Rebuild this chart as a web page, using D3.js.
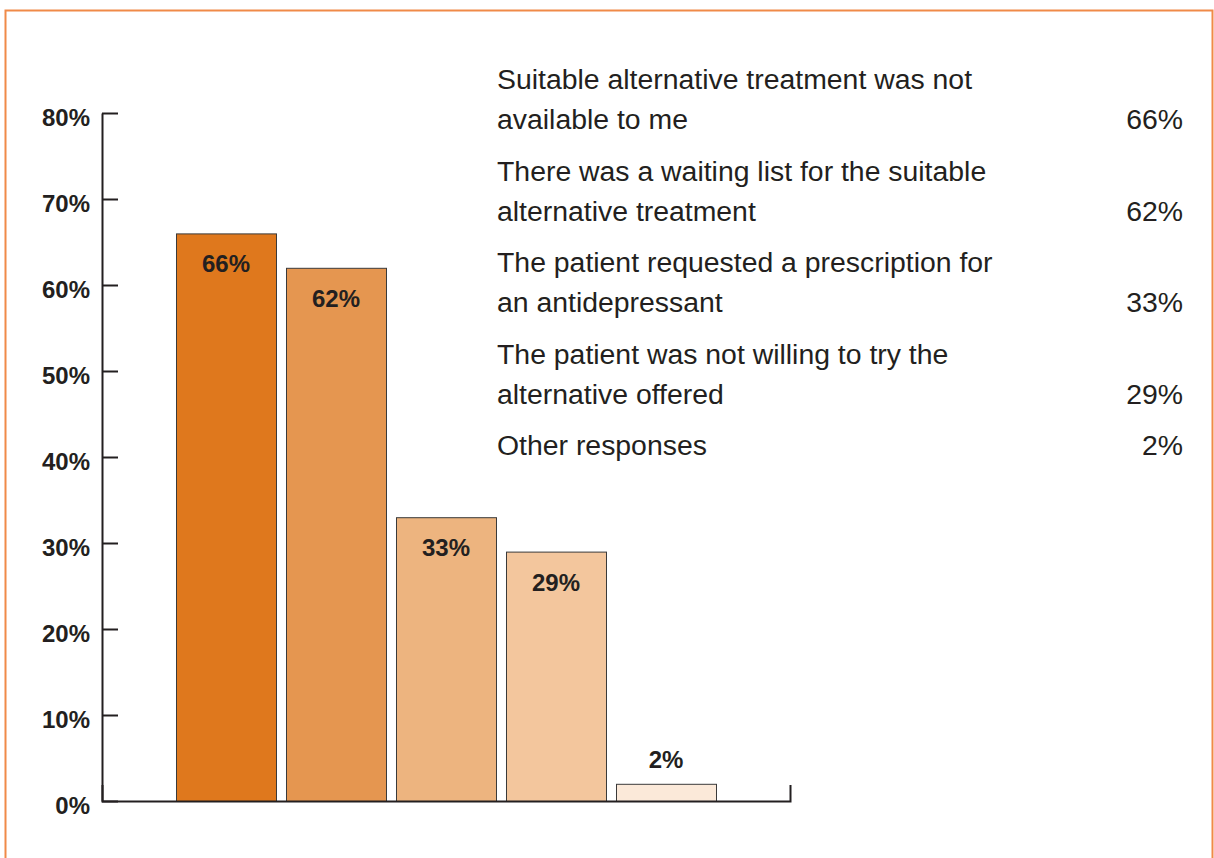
<!DOCTYPE html>
<html lang="en">
<head>
<meta charset="UTF-8">
<title>Reasons for prescribing</title>
<script src="https://d3js.org/d3.v7.min.js"></script>
<style>
    body { margin: 0; background: #fff; }
    svg { display: block; font-family: "Liberation Sans", Arial, Helvetica, sans-serif; }
    .axis path, .axis line { stroke: #231f20; stroke-width: 2px; fill: none; }
    .axis text { font-size: 24px; font-weight: bold; fill: #231f20; }
    .bar { stroke: #3a3a3a; stroke-width: 1px; }
    .bar-label { font-size: 24px; font-weight: bold; fill: #231f20; text-anchor: middle; }
    .legend text { font-size: 28.4px; fill: #231f20; }
</style>
</head>
<body>
<div id="chart"></div>
<script>
    // values
    var categories = ["Not available", "Waiting list", "Patient requested", "Not willing", "Other"];
    var values = [66, 62, 33, 29, 2];
    var barColors = ["#df781d", "#e59650", "#edb47f", "#f3c69d", "#fbe9d9"];
    var legendLines = [
        ["Suitable alternative treatment was not", "available to me"],
        ["There was a waiting list for the suitable", "alternative treatment"],
        ["The patient requested a prescription for", "an antidepressant"],
        ["The patient was not willing to try the", "alternative offered"],
        ["Other responses"]
    ];
    var yTicks = [0, 10, 20, 30, 40, 50, 60, 70, 80];

    var W = 1214, H = 858;

    var svg = d3.select("#chart").append("svg")
        .attr("width", W)
        .attr("height", H);

    // orange frame (bottom edge runs off the picture)
    svg.append("path")
        .attr("d", "M5.5," + H + "V10.5H1212.5V" + H)
        .attr("fill", "none")
        .attr("stroke", "#f08a48")
        .attr("stroke-width", 2);

    var x = d3.scaleBand()
        .domain(categories)
        .range([102, 790])
        .paddingInner(0.0909)
        .paddingOuter(0.6727);

    var y = d3.scaleLinear()
        .domain([0, 80])
        .range([801, 113]);

    // y axis, ticks pointing inward
    var yAxis = svg.append("g")
        .attr("class", "axis")
        .attr("transform", "translate(102,0)")
        .call(d3.axisLeft(y)
            .tickValues(yTicks)
            .tickSize(-16)
            .tickSizeOuter(0)
            .tickPadding(12)
            .tickFormat(function (d) { return d + "%"; }));
    yAxis.selectAll("text")
        .attr("dy", null)
        .attr("y", 12.5);
    yAxis.attr("font-family", null).attr("font-size", null);

    // bars
    svg.selectAll(".bar")
        .data(values)
        .enter()
        .append("rect")
        .attr("class", "bar")
        .attr("x", function (d, i) { return x(categories[i]) + 0.5; })
        .attr("y", function (d) { return y(d) + 0.5; })
        .attr("width", x.bandwidth())
        .attr("height", function (d) { return y(0) - y(d); })
        .attr("fill", function (d, i) { return barColors[i]; });

    svg.selectAll(".bar-label")
        .data(values)
        .enter()
        .append("text")
        .attr("class", "bar-label")
        .attr("x", function (d, i) { return x(categories[i]) + x.bandwidth() / 2; })
        .attr("y", function (d) {
            return (y(0) - y(d) > 50) ? y(d) + 39 : y(d) - 16;
        })
        .text(function (d) { return d + "%"; });

    // x axis: base line with a short upward tick at the right end
    svg.append("g")
        .attr("class", "axis")
        .attr("transform", "translate(0,801)")
        .call(d3.axisBottom(x).tickValues([]).tickSizeOuter(-16));

    // legend text on the right
    var legend = svg.append("g").attr("class", "legend");
    var baseY = 89, lineH = 40, gap = 11.5;
    legendLines.forEach(function (lines, i) {
        lines.forEach(function (line, j) {
            legend.append("text")
                .attr("x", 497)
                .attr("y", baseY + j * lineH)
                .text(line);
        });
        legend.append("text")
            .attr("x", 1183)
            .attr("y", baseY + (lines.length - 1) * lineH)
            .attr("text-anchor", "end")
            .text(values[i] + "%");
        baseY += lines.length * lineH + gap;
    });
</script>
</body>
</html>
